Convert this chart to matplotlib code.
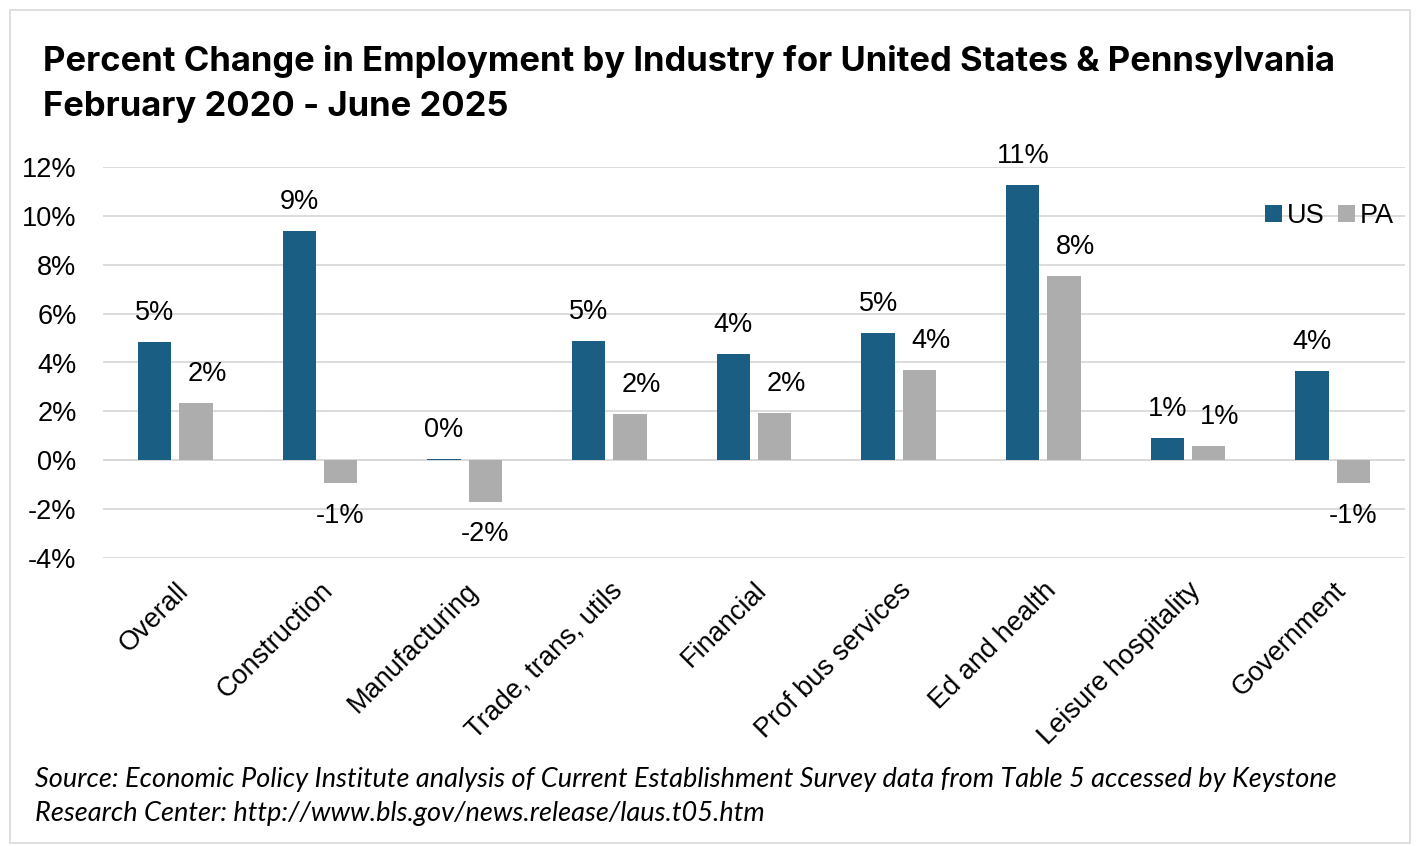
import numpy as np
import matplotlib.pyplot as plt
from matplotlib.patches import Rectangle

# ---------------- data ----------------
industries = ['Overall', 'Construction', 'Manufacturing', 'Trade, trans, utils',
              'Financial', 'Prof bus services', 'Ed and health',
              'Leisure hospitality', 'Government']
us_change = [4.85, 9.4, 0.05, 4.9, 4.35, 5.2, 11.25, 0.9, 3.65]
pa_change = [2.35, -0.95, -1.7, 1.9, 1.95, 3.7, 7.55, 0.6, -0.95]
y_ticks = [-4, -2, 0, 2, 4, 6, 8, 10, 12]

US_COLOR = '#1A5E83'
PA_COLOR = '#ADADAD'
GRID = '#D9D9D9'
FS = 19.5

plt.rcParams['font.family'] = ['Liberation Sans', 'DejaVu Sans']

W, H = 1416, 846
fig = plt.figure(figsize=(W / 100, H / 100), dpi=100)
ax = fig.add_axes([103 / W, 1 - 558 / H, (1405 - 103) / W, (558 - 167) / H])

x = np.arange(len(industries))
bw = 0.23
off = 0.142
ax.bar(x - off, us_change, bw, color=US_COLOR, label='US', zorder=3)
ax.bar(x + off, pa_change, bw, color=PA_COLOR, label='PA', zorder=3)

# data labels: above positive bars, below negative ones
# (positive PA labels sit a little right of their bar, as in the original)
for xs, vals, nudge in ((x - off, us_change, 0.0), (x + off, pa_change, 0.08)):
    for xi, v in zip(xs, vals):
        if v >= 0:
            ax.text(xi + nudge, v + 0.65, f'{v:.0f}%', ha='center', va='bottom', fontsize=FS)
        else:
            ax.text(xi, v - 0.8, f'-{abs(v):.0f}%', ha='center', va='top', fontsize=FS)

ax.set_xlim(-0.5, len(industries) - 0.5)
ax.set_ylim(-4, 12)
ax.set_yticks(y_ticks)
ax.set_yticklabels([f'{t}%' for t in y_ticks], fontsize=FS)
ax.set_xticks(x)
ax.set_xticklabels(industries, rotation=45, ha='right', rotation_mode='anchor', fontsize=FS)
ax.tick_params(axis='both', length=0)
ax.tick_params(axis='y', pad=19)
ax.tick_params(axis='x', pad=14)
ax.grid(axis='y', color=GRID, linewidth=1.3, zorder=0)
for s in ax.spines.values():
    s.set_visible(False)
ax.axhline(0, color=GRID, linewidth=1.3, zorder=1)

ax.legend(loc='upper right', bbox_to_anchor=(1.0, 0.935), frameon=False, fontsize=FS,
          handlelength=0.6, handleheight=0.6, handletextpad=0.2, columnspacing=0.5,
          ncol=2, borderaxespad=0)

fig.text(43 / W, 1 - 61 / H, 'Percent Change in Employment by Industry for United States & Pennsylvania',
         fontsize=24.9, fontweight='bold', family='Inter', va='center', ha='left')
fig.text(43 / W, 1 - 107 / H, 'February 2020 - June 2025',
         fontsize=24.9, fontweight='bold', family='Inter', va='center', ha='left')

fig.text(35 / W, 1 - 779 / H,
         'Source: Economic Policy Institute analysis of Current Establishment Survey data from Table 5 accessed by Keystone',
         fontsize=19.5, style='italic', family='Lato', va='center', ha='left')
fig.text(35 / W, 1 - 813 / H, 'Research Center: http://www.bls.gov/news.release/laus.t05.htm',
         fontsize=19.5, style='italic', family='Lato', va='center', ha='left')

fig.patches.append(Rectangle((10 / W, 3 / H), 1400 / W, 833 / H, transform=fig.transFigure,
                             fill=False, edgecolor='#D9D9D9', linewidth=1.2))

fig.savefig('out.png', dpi=100)
